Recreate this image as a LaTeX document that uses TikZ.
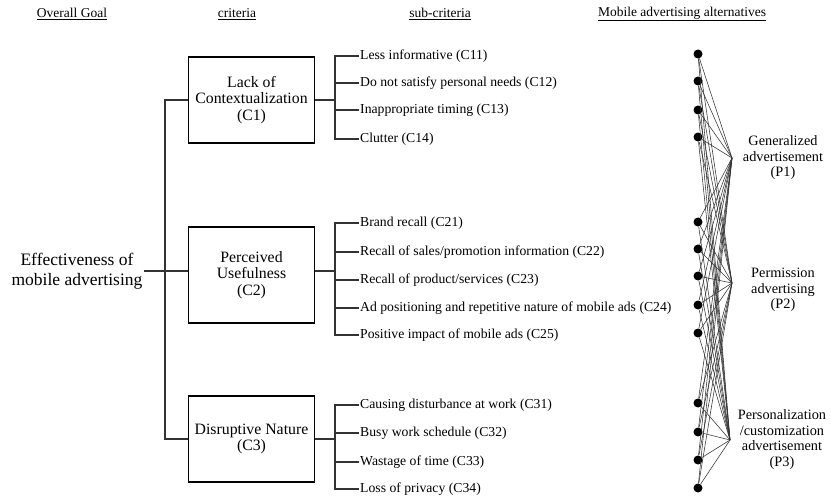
\documentclass[tikz,border=0pt]{standalone}
\usepackage{fontspec}
\setmainfont{Liberation Serif}
\begin{document}
\begin{tikzpicture}[x=1pt,y=-1pt,
  hdr/.style={font=\fontsize{13.5}{15}\selectfont, inner sep=0pt},
  goalbox/.style={font=\fontsize{17.5}{20}\selectfont, align=center, inner sep=1pt},
  crit/.style={draw, line width=1.8pt, minimum width=126pt, align=center,
    font=\fontsize{15.8}{16.8}\selectfont, inner sep=0pt},
  sub/.style={anchor=west, inner sep=1pt, font=\fontsize{13.7}{15}\selectfont},
  conn/.style={draw=black!80, line width=1.1pt},
  dotn/.style={circle, fill=black, inner sep=0pt, minimum size=9pt},
  web/.style={draw=black!80, line width=0.55pt},
  alt/.style={align=center, font=\fontsize{14.3}{15.5}\selectfont, inner sep=0pt}]
\useasboundingbox (0,0) rectangle (831,500);

% headers
\node[hdr] (h1) at (72,14) {\underline{Overall Goal}};
\node[hdr] (h2) at (237,14) {\underline{criteria}};
\node[hdr] (h3) at (440,14) {\underline{sub-criteria}};
\node[hdr] (h4) at (682,14) {\underline{Mobile advertising alternatives}};

% goal
\node[goalbox] (goal) at (77,271) {Effectiveness of\\mobile advertising};

% criteria
\node[crit, minimum height=86pt] (c1) at (251.5,100) {Lack of\\Contextualization\\(C1)};
\node[crit, minimum height=96pt] (c2) at (251.5,275) {Perceived\\Usefulness\\(C2)};
\node[crit, minimum height=86pt] (c3) at (251.5,439) {Disruptive Nature\\(C3)};

\coordinate (t1) at (165,100);
\coordinate (t3) at (165,439);
\draw[conn] (goal.east) -- (c2.west |- goal.east);
\draw[conn] (c1.west) -- (t1) -- (t3) -- (c3.west);

% sub-criteria
\node[sub] (s11) at (359,56) {Less informative (C11)};
\node[sub] (s12) at (359,83) {Do not satisfy personal needs (C12)};
\node[sub] (s13) at (359,110) {Inappropriate timing (C13)};
\node[sub] (s14) at (359,139) {Clutter (C14)};
\node[sub] (s21) at (359,223) {Brand recall (C21)};
\node[sub] (s22) at (359,252) {Recall of sales/promotion information (C22)};
\node[sub] (s23) at (359,280) {Recall of product/services (C23)};
\node[sub] (s24) at (359,308) {Ad positioning and repetitive nature of mobile ads (C24)};
\node[sub] (s25) at (359,335) {Positive impact of mobile ads (C25)};
\node[sub] (s31) at (359,405) {Causing disturbance at work (C31)};
\node[sub] (s32) at (359,433) {Busy work schedule (C32)};
\node[sub] (s33) at (359,462) {Wastage of time (C33)};
\node[sub] (s34) at (359,489) {Loss of privacy (C34)};

\coordinate (b1) at (335,100);
\coordinate (b2) at (335,271);
\coordinate (b3) at (335,439);
\draw[conn] (c1.east) -- (b1);
\draw[conn] (c2.east |- b2) -- (b2);
\draw[conn] (c3.east) -- (b3);
\foreach \s in {s11,s12,s13,s14} \draw[conn] (\s.west) -| (b1);
\foreach \s in {s21,s22,s23,s24,s25} \draw[conn] (\s.west) -| (b2);
\foreach \s in {s31,s32,s33,s34} \draw[conn] (\s.west) -| (b3);

% alternatives
\foreach \i/\y in {1/54,2/81,3/110,4/137,5/222,6/249,7/276,8/305,9/333,10/403,11/432,12/460,13/488}
  \node[dotn] (d\i) at (698,\y) {};
\coordinate (p1) at (732,158);
\coordinate (p2) at (732,283);
\coordinate (p3) at (730,440);
\foreach \i in {1,...,13}
  \foreach \j in {1,2,3}
    \draw[web] (d\i) -- (p\j);

\node[alt] (a1) at (783,158) {Generalized\\advertisement\\(P1)};
\node[alt] (a2) at (783,290) {Permission\\advertising\\(P2)};
\node[alt] (a3) at (782,439.5) {Personalization\\/customization\\advertisement\\(P3)};
\end{tikzpicture}
\end{document}
